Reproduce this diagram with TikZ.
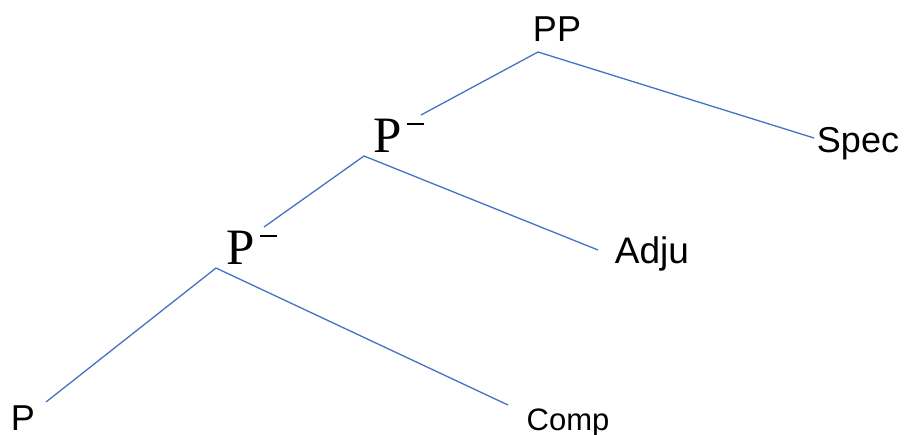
\documentclass[tikz,border=0pt]{standalone}
\usepackage{fontspec}
\setmainfont{Liberation Sans}
\newfontfamily\serifP{Liberation Serif}
\newcommand{\pbarlabel}{\serifP P\hspace{5pt}\rule[27pt]{17pt}{2.5pt}}
\begin{document}
\begin{tikzpicture}[x=1pt,y=-1pt,
  lab/.style={inner sep=0pt,anchor=base,font=\fontsize{36}{42}\selectfont},
  small/.style={inner sep=0pt,anchor=base,font=\fontsize{31}{36}\selectfont},
  pbar/.style={inner sep=0pt,anchor=base west,font=\fontsize{51}{58}\selectfont},
  edge/.style={draw={rgb,255:red,68;green,114;blue,196},line width=1.3pt}]
\useasboundingbox (0,0) rectangle (904,434);
\node[lab] (pp) at (557,41) {PP};
\node[pbar] (p1) at (373,152) {\pbarlabel};
\node[pbar] (p2) at (226,264) {\pbarlabel};
\node[lab] (spec) at (858,152) {Spec};
\node[lab,font=\fontsize{37}{42}\selectfont] (adju) at (652,263) {Adju};
\node[lab] (p) at (23,430) {P};
\node[small] (comp) at (568,430) {Comp};
\coordinate (ppd) at (538,52);
\coordinate (p1u) at (421,115);
\coordinate (p1d) at (364,156);
\coordinate (p2u) at (264,227);
\coordinate (p2d) at (216,268);
\coordinate (specl) at (814,138);
\coordinate (adjul) at (598,250);
\coordinate (pu) at (46,402);
\coordinate (compl) at (508,405);
\draw[edge] (p1u) -- (ppd) -- (specl);
\draw[edge] (p2u) -- (p1d) -- (adjul);
\draw[edge] (pu) -- (p2d) -- (compl);
\end{tikzpicture}
\end{document}
